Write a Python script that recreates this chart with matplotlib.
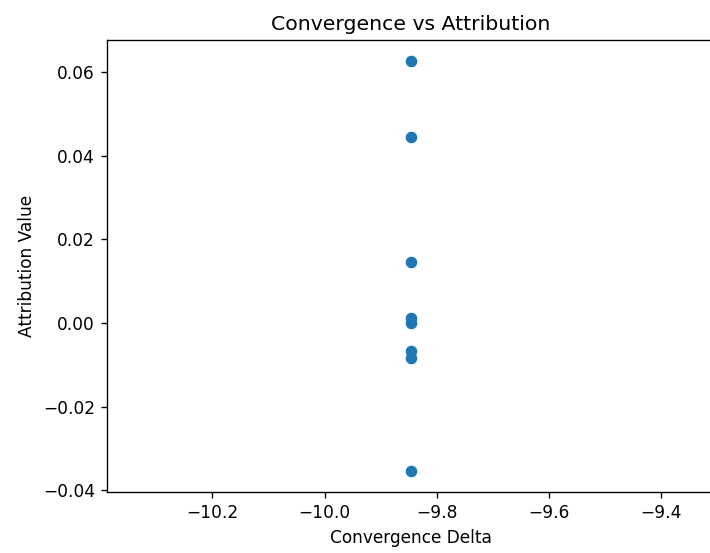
import numpy as np
import matplotlib
matplotlib.use('Agg')
import matplotlib.pyplot as plt

# Dados
convergence_delta = [-9.846, -9.846, -9.846, -9.846, -9.846, -9.846, -9.846, -9.846]
attribution_value = [0.0628, 0.0446, 0.0146, 0.0011, 0.0, -0.0067, -0.0083, -0.0355]

# Escala: o original foi renderizado ~1.226x maior que o padrão
k = 1.226
plt.rcParams.update({
    'font.size': 10 * k,
    'axes.titlesize': 12 * k,
    'axes.labelsize': 10 * k,
    'axes.linewidth': 0.8 * k,
    'xtick.major.width': 0.8 * k,
    'ytick.major.width': 0.8 * k,
    'xtick.major.size': 3.5 * k,
    'ytick.major.size': 3.5 * k,
    'xtick.major.pad': 3.5 * k,
    'ytick.major.pad': 3.5 * k,
    'axes.titlepad': 6 * k,
    'axes.labelpad': 4 * k,
})

fig = plt.figure(figsize=(7.1, 5.53), dpi=100)
# a imagem original está recortada: a borda direita do eixo fica fora da figura
ax = fig.add_axes([107 / 710, 61 / 553, 608 / 710, 452 / 553])

ax.scatter(convergence_delta, attribution_value, s=36 * k * k, color='#1f77b4')
ax.set_title('Convergence vs Attribution')
ax.set_xlabel('Convergence Delta')
ax.set_ylabel('Attribution Value')

fig.savefig('out.png', dpi=100)
plt.close(fig)
